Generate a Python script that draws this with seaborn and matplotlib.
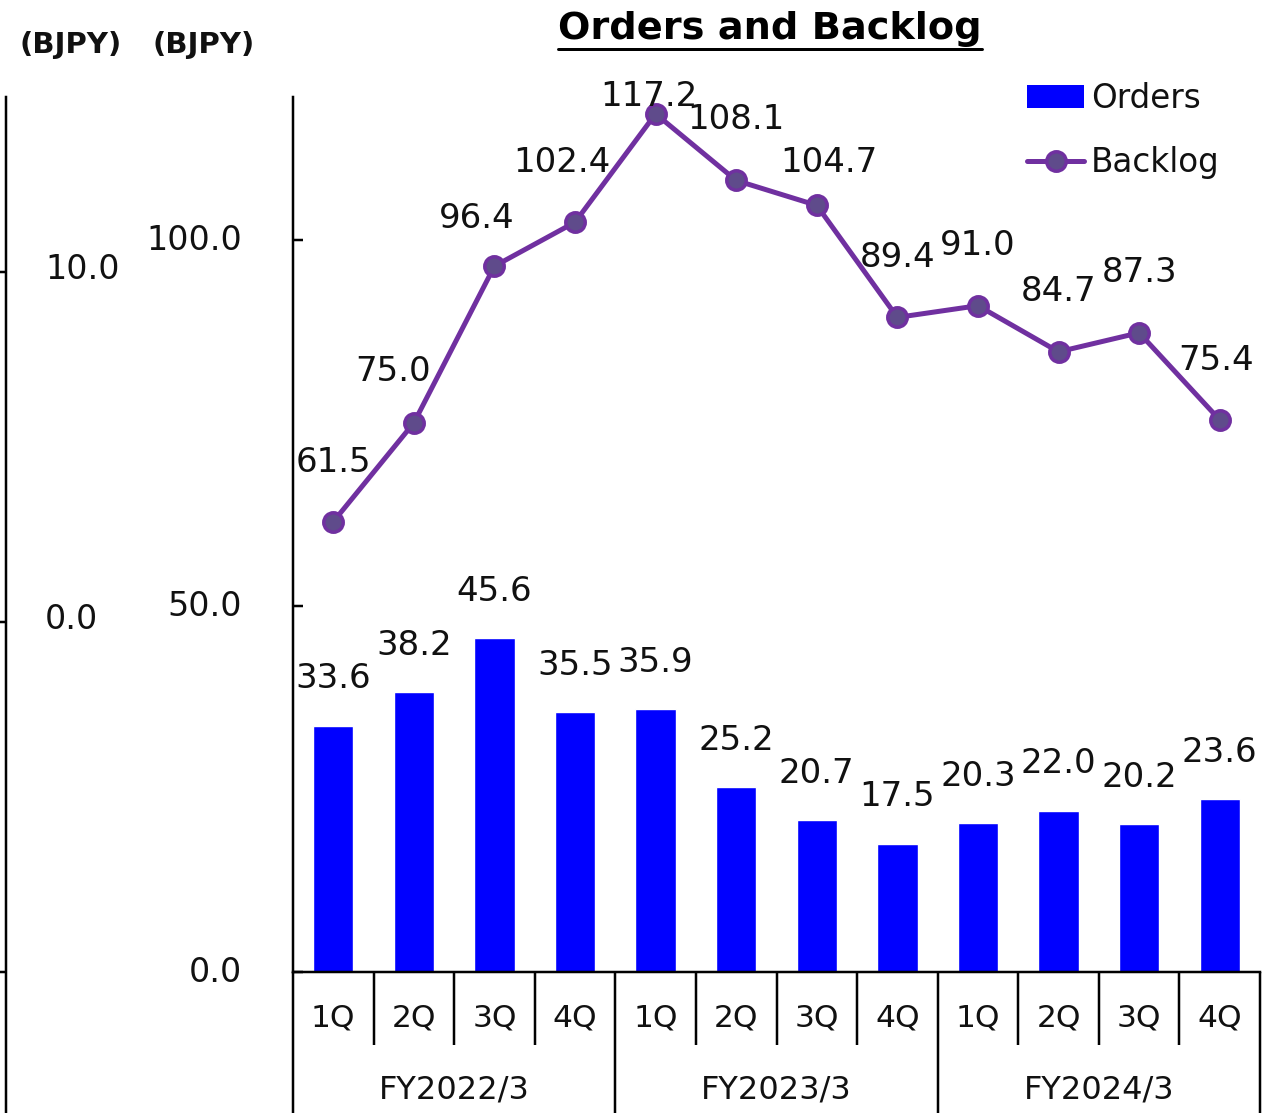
import matplotlib
matplotlib.use('Agg')
import matplotlib.pyplot as plt
import matplotlib.transforms as mtransforms
from matplotlib.lines import Line2D
from matplotlib.patches import Patch
import numpy as np
import pandas as pd
import seaborn as sns

# ---------------- data ----------------
quarters = ['1Q', '2Q', '3Q', '4Q', '1Q', '2Q', '3Q', '4Q', '1Q', '2Q', '3Q', '4Q']
fiscal_years = ['FY2022/3', 'FY2023/3', 'FY2024/3']
orders = [33.6, 38.2, 45.6, 35.5, 35.9, 25.2, 20.7, 17.5, 20.3, 22.0, 20.2, 23.6]
backlog = [61.5, 75.0, 96.4, 102.4, 117.2, 108.1, 104.7, 89.4, 91.0, 84.7, 87.3, 75.4]
main_ticks = [0, 50, 100]
aux_ticks = [-10, 0, 10]
aux_tick_labels = ['', '0.0', '10.0']
unit_label = '(BJPY)'
title = 'Orders and Backlog'
series_names = ['Orders', 'Backlog']

# label offsets for backlog values (pixels: dx, dy)
backlog_label_offsets = [(0, 59), (-21, 51), (-18, 48), (-13, 60), (-7, 17), (0, 61),
                         (12, 43), (0, 60), (0, 60), (0, 60), (0, 60), (-4, 59)]

BAR_COLOR = '#0000ff'
LINE_COLOR = '#7030a0'
MARKER_FACE = '#5f4b8b'
TEXT_COLOR = '#111111'

sns.set_theme(style='white')
plt.rcParams['font.family'] = ['DejaVu Sans']

W, H = 1263, 1113
DPI = 100
PT = 72.0 / DPI  # px -> pt
fig = plt.figure(figsize=(W / DPI, H / DPI), dpi=DPI)


def fx(px):
    return px / W


def fy(py):
    return 1 - py / H


# ---------------- auxiliary left axis (remnant) ----------------
aux = fig.add_axes([fx(6), fy(1113), fx(130), (1113 - 97) / H])
aux.set_facecolor('none')
aux.set_ylim(-14.03, 15.0)
aux.set_xlim(0, 1)
for s in ['top', 'right', 'bottom']:
    aux.spines[s].set_visible(False)
aux.spines['left'].set_color('black')
aux.spines['left'].set_linewidth(2.5 * PT)
aux.set_xticks([])
aux.set_yticks(aux_ticks)
aux.set_yticklabels(aux_tick_labels)
aux.tick_params(axis='y', direction='out', length=6 * PT, width=2.5 * PT, color='black',
                labelsize=24, labelcolor=TEXT_COLOR, pad=-(39 + 6) * PT, left=True)
for lab in aux.get_yticklabels():
    lab.set_horizontalalignment('left')
    lab.set_transform(lab.get_transform() +
                      mtransforms.ScaledTranslation(0, 6 / DPI, fig.dpi_scale_trans))

# ---------------- main axis ----------------
top_px, bot_px, left_px, right_px = 97, 972, 293, 1260
ax = fig.add_axes([fx(left_px), fy(bot_px), fx(right_px) - fx(left_px), (bot_px - top_px) / H])
ax.set_facecolor('none')
df = pd.DataFrame({'idx': np.arange(len(orders)), 'orders': orders, 'backlog': backlog})

sns.barplot(data=df, x='idx', y='orders', color=BAR_COLOR, saturation=1, width=0.5,
            ax=ax, native_scale=True, zorder=2)
sns.lineplot(data=df, x='idx', y='backlog', ax=ax, color=LINE_COLOR, linewidth=5 * PT,
             marker='o', markersize=14, markerfacecolor=MARKER_FACE,
             markeredgecolor=LINE_COLOR, markeredgewidth=2.5, zorder=3)

ax.set_xlim(-0.5, len(orders) - 0.5)
ax.set_ylim(0, 119.5)
ax.set_xlabel('')
ax.set_ylabel('')
for s in ['top', 'right']:
    ax.spines[s].set_visible(False)
for s in ['left', 'bottom']:
    ax.spines[s].set_color('black')
    ax.spines[s].set_linewidth(2.5 * PT)
ax.set_xticks([])
ax.set_yticks(main_ticks)
ax.set_yticklabels([f'{v:.1f}' for v in main_ticks])
ax.tick_params(axis='y', direction='in', length=10 * PT, width=2.5 * PT, color='black',
               labelsize=24, labelcolor=TEXT_COLOR, pad=51 * PT, left=True)
for lab in ax.get_yticklabels():
    lab.set_transform(lab.get_transform() +
                      mtransforms.ScaledTranslation(0, 3 / DPI, fig.dpi_scale_trans))

# value labels
for i, v in enumerate(orders):
    ax.annotate(f'{v:.1f}', (i, v), xytext=(0, 47 * PT), textcoords='offset points',
                ha='center', va='center', fontsize=24.5, color=TEXT_COLOR, zorder=4)
for i, v in enumerate(backlog):
    dx, dy = backlog_label_offsets[i]
    ax.annotate(f'{v:.1f}', (i, v), xytext=(dx * PT, dy * PT), textcoords='offset points',
                ha='center', va='center', fontsize=24.5, color=TEXT_COLOR, zorder=4)

# category axis (two-level)
axes_h = bot_px - top_px
trans = mtransforms.blended_transform_factory(ax.transData, ax.transAxes)
short = -73 / axes_h
full = -(H - bot_px) / axes_h
n = len(quarters)
for b in range(n + 1):
    xpos = b - 0.5
    y1 = full if b % 4 == 0 else short
    ax.plot([xpos, xpos], [0, y1], transform=trans, color='black', lw=2.5 * PT,
            clip_on=False, solid_capstyle='butt')
for i, q in enumerate(quarters):
    ax.text(i, -46 / axes_h, q, transform=trans, ha='center', va='center', fontsize=22.5,
            color=TEXT_COLOR)
for g, fyr in enumerate(fiscal_years):
    ax.text(g * 4 + 1.5, -118 / axes_h, fyr, transform=trans, ha='center', va='center',
            fontsize=23, color=TEXT_COLOR)

# legend
handles = [Patch(facecolor=BAR_COLOR, edgecolor='none'),
           Line2D([], [], color=LINE_COLOR, lw=5 * PT, marker='o', markersize=14,
                  markerfacecolor=MARKER_FACE, markeredgecolor=LINE_COLOR,
                  markeredgewidth=2.5)]
leg = fig.legend(handles, series_names, loc='upper left', bbox_to_anchor=(fx(1027), fy(82)),
                 frameon=False, fontsize=23.5, handlelength=1.75, handletextpad=0.2,
                 labelspacing=0.95, borderpad=0, borderaxespad=0)
for txt in leg.get_texts():
    txt.set_color(TEXT_COLOR)

# unit labels
fig.text(fx(71), fy(45), unit_label, ha='center', va='center', fontsize=21,
         fontweight='bold', color=TEXT_COLOR)
fig.text(fx(204), fy(45), unit_label, ha='center', va='center', fontsize=21,
         fontweight='bold', color=TEXT_COLOR)

# title with underline
t = fig.text(fx(770), fy(29), title, ha='center', va='center', fontsize=27.5,
             fontweight='bold', color='black')
fig.canvas.draw()
bb = t.get_window_extent(fig.canvas.get_renderer())
fig.add_artist(Line2D([bb.x0 / W, bb.x1 / W], [fy(49), fy(49)], transform=fig.transFigure,
                      color='black', lw=3 * PT))

fig.savefig('out.png', dpi=DPI)
